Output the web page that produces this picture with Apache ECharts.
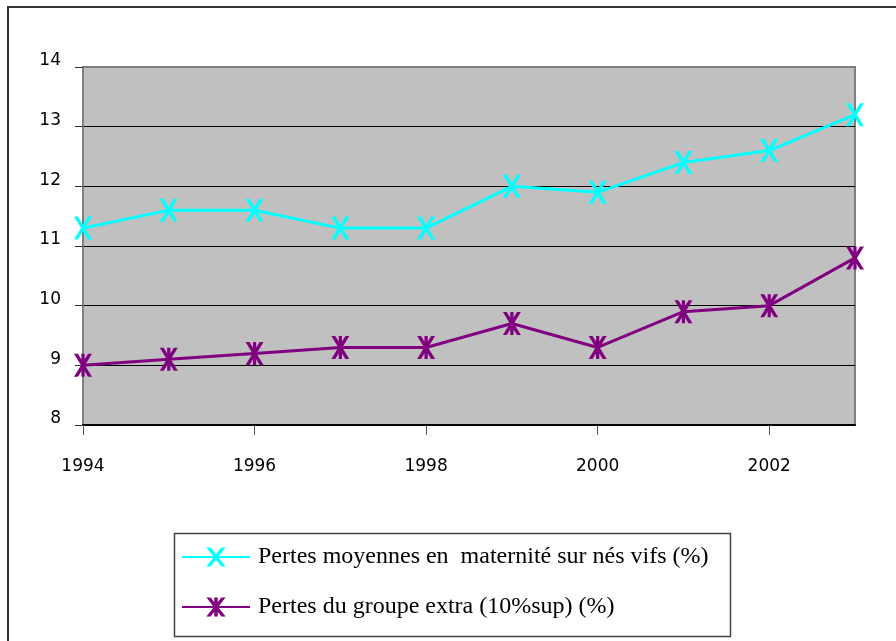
<!DOCTYPE html>
<html>
<head>
<meta charset="utf-8">
<script src="https://cdn.jsdelivr.net/npm/echarts@6/dist/echarts.min.js"></script>
<style>
  html, body { margin: 0; padding: 0; background: #fff; }
  #chart { width: 896px; height: 641px; }
</style>
</head>
<body>
<div id="chart"></div>
<script>
// Years on the horizontal axis
const years = ['1994', '1995', '1996', '1997', '1998', '1999', '2000', '2001', '2002', '2003'];

// Average maternity losses over live births (%)
const pertesMoyennes = [11.3, 11.6, 11.6, 11.3, 11.3, 12.0, 11.9, 12.4, 12.6, 13.2];

// Losses of the top group (best 10%) (%)
const pertesExtra = [9.0, 9.1, 9.2, 9.3, 9.3, 9.7, 9.3, 9.9, 10.0, 10.8];

const seriesNames = [
  'Pertes moyennes en  maternité sur nés vifs (%)',
  'Pertes du groupe extra (10%sup) (%)'
];

// Marker shapes: a thick "X" and an asterisk (X with a vertical bar)
const crossPath = 'path://M0,0 L22,0 L50,36 L78,0 L100,0 L61,50 L100,100 L78,100 L50,64 L22,100 L0,100 L39,50 Z';
const starPath = 'path://M0,0 L22,0 L50,36 L78,0 L100,0 L61,50 L100,100 L78,100 L50,64 L22,100 L0,100 L39,50 Z M41,0 L59,0 L59,100 L41,100 Z';

const chart = echarts.init(document.getElementById('chart'), null, { renderer: 'canvas' });

chart.setOption({
  animation: false,
  backgroundColor: '#ffffff',
  graphic: [
    // outer chart frame (left and top edges visible)
    {
      type: 'rect',
      shape: { x: 8, y: 7, width: 920, height: 680 },
      style: { fill: 'none', stroke: '#333333', lineWidth: 2 },
      z: -1
    },
    // legend box
    {
      type: 'rect',
      shape: { x: 174.5, y: 533.5, width: 556, height: 103 },
      style: { fill: '#ffffff', stroke: '#444444', lineWidth: 1.5 },
      z: 0
    }
  ],
  grid: {
    left: 83,
    top: 67,
    width: 772,
    height: 358,
    show: true,
    backgroundColor: '#c0c0c0',
    borderColor: '#808080',
    borderWidth: 2
  },
  legend: {
    orient: 'vertical',
    left: 181,
    top: 545,
    itemWidth: 68,
    itemHeight: 24,
    itemGap: 26,
    padding: 0,
    data: seriesNames,
    textStyle: {
      fontFamily: 'Liberation Serif',
      fontSize: 24,
      color: '#000000',
      padding: [0, 0, 0, 3]
    },
    z: 5
  },
  xAxis: {
    type: 'category',
    data: years,
    boundaryGap: false,
    axisLine: { show: true, lineStyle: { color: '#000000', width: 2 } },
    axisTick: {
      show: true,
      interval: 1,
      length: 10,
      lineStyle: { color: '#555555', width: 1 }
    },
    axisLabel: {
      interval: 1,
      margin: 33,
      fontFamily: 'DejaVu Sans',
      fontSize: 17,
      color: '#000000'
    },
    splitLine: { show: false }
  },
  yAxis: {
    type: 'value',
    min: 8,
    max: 14,
    interval: 1,
    axisLine: { show: true, lineStyle: { color: '#808080', width: 2 } },
    axisTick: {
      show: true,
      length: 8,
      lineStyle: { color: '#333333', width: 1 }
    },
    axisLabel: {
      margin: 22,
      fontFamily: 'DejaVu Sans',
      fontSize: 17,
      color: '#000000',
      verticalAlign: 'bottom',
      lineHeight: 12
    },
    splitLine: {
      show: true,
      lineStyle: {
        color: ['#000000', '#000000', '#000000', '#000000', '#000000', '#000000', '#808080'],
        width: 1
      }
    }
  },
  series: [
    {
      name: seriesNames[0],
      type: 'line',
      data: pertesMoyennes,
      symbol: crossPath,
      symbolSize: [18, 23],
      showAllSymbol: true,
      lineStyle: { color: '#00ffff', width: 3 },
      itemStyle: { color: '#00ffff' },
      z: 3
    },
    {
      name: seriesNames[1],
      type: 'line',
      data: pertesExtra,
      symbol: starPath,
      symbolSize: [18, 23],
      showAllSymbol: true,
      lineStyle: { color: '#800080', width: 3 },
      itemStyle: { color: '#800080' },
      z: 3
    }
  ]
});
</script>
</body>
</html>
